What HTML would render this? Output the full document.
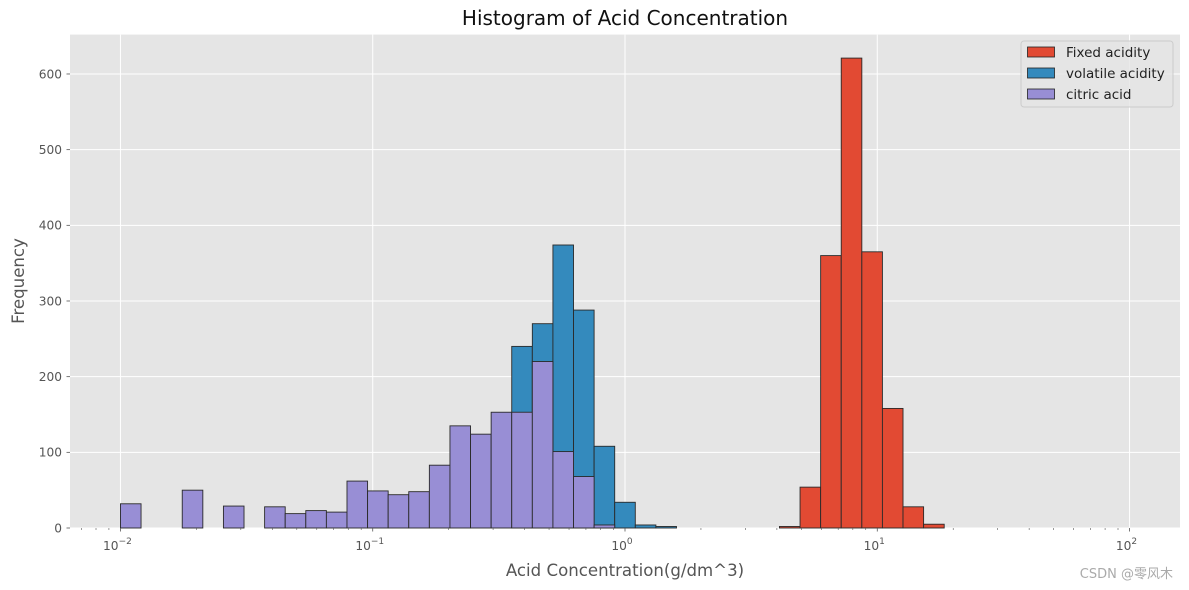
<!DOCTYPE html>
<html><head><meta charset="utf-8"><style>
body{margin:0;background:#fff;}
svg{display:block;font-family:"DejaVu Sans","Liberation Sans","Noto Sans CJK SC",sans-serif;}
</style></head><body>
<svg id="chart" width="1189" height="590" viewBox="0 0 1189 590" xmlns="http://www.w3.org/2000/svg">
<rect x="0" y="0" width="1189" height="590" fill="#fff"/>
<rect x="70" y="34.6" width="1110" height="493.4" fill="#e5e5e5"/>
<g id="grid"></g>
<g id="bars"></g>
<g id="axes"></g>
<text x="625" y="25" font-size="20" text-anchor="middle" fill="#111">Histogram of Acid Concentration</text>
<text x="625" y="576" font-size="16.6" text-anchor="middle" fill="#555">Acid Concentration(g/dm^3)</text>
<text x="24" y="281" font-size="16.6" text-anchor="middle" fill="#555" transform="rotate(-90 24 281)">Frequency</text>
<g>
<rect x="1021" y="41" width="152" height="66" rx="3" fill="#e5e5e5" fill-opacity="0.8" stroke="#cccccc" stroke-width="1"/>
<g><rect x="1027.5" y="47" width="27" height="10" fill="#E24A33" stroke="#222" stroke-width="0.8"/><text x="1066" y="57" font-size="13.5" fill="#222">Fixed acidity</text></g>
<g><rect x="1027.5" y="68" width="27" height="10" fill="#348ABD" stroke="#222" stroke-width="0.8"/><text x="1066" y="78" font-size="13.5" fill="#222">volatile acidity</text></g>
<g><rect x="1027.5" y="89" width="27" height="10" fill="#988ED5" stroke="#222" stroke-width="0.8"/><text x="1066" y="99" font-size="13.5" fill="#222">citric acid</text></g>
</g>
<text x="1173" y="578" font-size="13" text-anchor="end" fill="#aaa">CSDN @零风木</text>
</svg>
<script>
// Data: bins = logspace(-2, 2, 50) -> 49 bins
const binCount = 49;
const fixedBins = [32,33,34,35,36,37,38,39];
const fixedCounts = [2,54,360,621,365,158,28,5];
const volatileBins = [19,20,21,22,23,24,25,26];
const volatileCounts = [240,270,374,288,108,34,4,2];
const citricBins = [0,3,5,7,8,9,10,11,12,13,14,15,16,17,18,19,20,21,22,23];
const citricCounts = [32,50,29,28,19,23,21,62,49,44,48,83,135,124,153,153,220,101,68,4];
const yTicks = [0,100,200,300,400,500,600];
const xTickExps = [-2,-1,0,1,2];

const NS="http://www.w3.org/2000/svg";
const L=70,R=1180,T=34.6,B=528;
const xmin=-2.2,xmax=2.2,ymax=652.05;
function xs(logv){return L+(logv-xmin)/(xmax-xmin)*(R-L);}
function ys(v){return B-v/ymax*(B-T);}
function edge(i){return -2+4*i/binCount;}
function mk(tag,attrs,parent){const e=document.createElementNS(NS,tag);for(const k in attrs)e.setAttribute(k,attrs[k]);parent.appendChild(e);return e;}
const grid=document.getElementById('grid'),bars=document.getElementById('bars'),axes=document.getElementById('axes');
yTicks.forEach(v=>{
  const g=mk('line',{x1:L,x2:R,y1:ys(v),y2:ys(v),stroke:'#fff','stroke-width':1},grid);
  
  
  mk('line',{x1:L-3.5,x2:L,y1:ys(v),y2:ys(v),stroke:'#555','stroke-width':0.8},axes);
  const t=mk('text',{x:L-8,y:ys(v)+4.3,'font-size':12.2,'text-anchor':'end',fill:'#555'},axes);
  t.textContent=v;
  
  
});
xTickExps.forEach(e=>{
  const x=xs(e);
  const g=mk('line',{x1:x,x2:x,y1:T,y2:B,stroke:'#fff','stroke-width':1},grid);
  
  
  mk('line',{x1:x,x2:x,y1:B,y2:B+3.5,stroke:'#555','stroke-width':0.8},axes);
  const t=mk('text',{x:x-3,y:B+22,'font-size':12.2,'text-anchor':'middle',fill:'#555'},axes);
  
  
  t.textContent='10';
  const s=mk('tspan',{'font-size':9,dy:-6},t);
  s.textContent=(e<0?'\u2212':'')+Math.abs(e);
});
for(let e=-3;e<=2;e++){for(let m=2;m<=9;m++){const lv=e+Math.log10(m);if(lv<xmin||lv>xmax)continue;const x=xs(lv);mk('line',{x1:x,x2:x,y1:B,y2:B+2,stroke:'#555','stroke-width':0.6},axes);}}
function drawSeries(binsArr,counts,color,name){
  binsArr.forEach((b,i)=>{
    const x0=xs(edge(b)),x1=xs(edge(b+1));
    const r=mk('rect',{x:x0,y:ys(counts[i]),width:x1-x0,height:B-ys(counts[i]),fill:color,stroke:'#2a2a2a','stroke-width':0.9},bars);
    
    
  });
}
drawSeries(fixedBins,fixedCounts,'#E24A33','fixed-acidity');
drawSeries(volatileBins,volatileCounts,'#348ABD','volatile-acidity');
drawSeries(citricBins,citricCounts,'#988ED5','citric-acid');
</script>
</body></html>
